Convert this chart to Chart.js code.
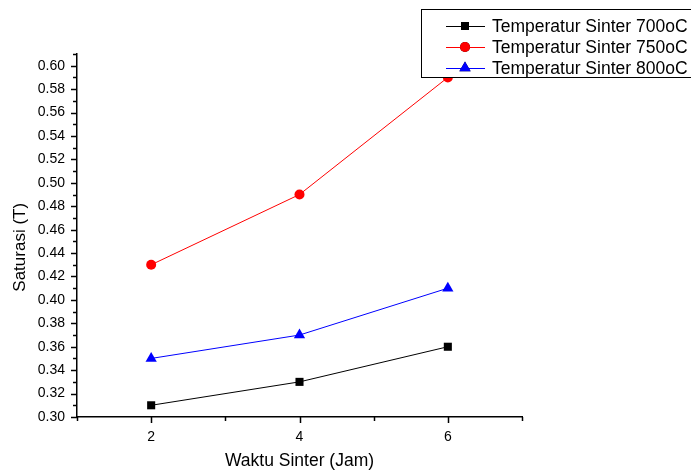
<!DOCTYPE html>
<html>
<head>
<meta charset="utf-8">
<script src="https://cdn.jsdelivr.net/npm/chart.js@4/dist/chart.umd.min.js"></script>
<style>
  html, body { margin: 0; padding: 0; background: #fff; }
  #wrap { width: 691px; height: 470px; }
</style>
</head>
<body>
<div id="wrap"><canvas id="chart" width="691" height="470"></canvas></div>
<script>
// data
const waktu = [2, 4, 6];
const suhu700 = [0.31, 0.33, 0.36];
const suhu750 = [0.43, 0.49, 0.59];
const suhu800 = [0.35, 0.37, 0.41];
const seriesNames = ['Temperatur Sinter 700oC', 'Temperatur Sinter 750oC', 'Temperatur Sinter 800oC'];

const FONT = 'Arial, "Liberation Sans", sans-serif';

const toPoints = (ys) => waktu.map((x, i) => ({ x: x, y: ys[i] }));

// draws major/minor tick marks outward, like Origin does
const tickMarks = {
    id: 'tickMarks',
    afterDraw(chart) {
        const ctx = chart.ctx;
        const xs = chart.scales.x, ys = chart.scales.y;
        ctx.save();
        ctx.strokeStyle = '#000';
        ctx.lineWidth = 1.5;
        xs.ticks.forEach(t => {
            const px = Math.round(xs.getPixelForValue(t.value)) + 0.5;
            const len = (t.value % 2 === 0) ? 6 : 4;
            ctx.beginPath();
            ctx.moveTo(px, xs.top);
            ctx.lineTo(px, xs.top + len);
            ctx.stroke();
        });
        ys.ticks.forEach(t => {
            const py = Math.round(ys.getPixelForValue(t.value)) + 0.5;
            const len = (Math.round(t.value * 100) % 2 === 0) ? 6 : 4;
            ctx.beginPath();
            ctx.moveTo(ys.right, py);
            ctx.lineTo(ys.right - len, py);
            ctx.stroke();
        });
        ctx.restore();
    }
};

// boxed legend in the top right corner, drawn over the data
const boxLegend = {
    id: 'boxLegend',
    afterDraw(chart) {
        const ctx = chart.ctx;
        ctx.save();
        ctx.fillStyle = '#fff';
        ctx.fillRect(421, 9, 280, 68);
        ctx.strokeStyle = '#000';
        ctx.lineWidth = 1;
        ctx.strokeRect(421.5, 9.5, 280, 68);
        const rowY = [26, 47, 68];
        chart.data.datasets.forEach((ds, i) => {
            const y = rowY[i];
            ctx.strokeStyle = ds.borderColor;
            ctx.lineWidth = 1;
            ctx.beginPath();
            ctx.moveTo(446, y + 0.5);
            ctx.lineTo(485, y + 0.5);
            ctx.stroke();
            Chart.helpers.drawPoint(ctx, {
                pointStyle: ds.pointStyle,
                radius: ds.pointRadius,
                rotation: 0,
                borderWidth: 0
            }, 465, y);
            ctx.fillStyle = ds.borderColor;
            ctx.fill();
            ctx.fillStyle = '#000';
            ctx.font = '17.5px ' + FONT;
            ctx.textBaseline = 'middle';
            ctx.fillText(ds.label, 492, y + 1);
        });
        ctx.restore();
    }
};

const makeSet = (label, ys, color, style, r) => ({
    label: label,
    data: toPoints(ys),
    borderColor: color,
    backgroundColor: color,
    borderWidth: 1,
    pointStyle: style,
    pointRadius: r,
    pointBorderWidth: 0,
    pointBackgroundColor: color,
    tension: 0
});

new Chart(document.getElementById('chart'), {
    type: 'line',
    data: {
        datasets: [
            makeSet(seriesNames[0], suhu700, '#000000', 'rect', 5.7),
            makeSet(seriesNames[1], suhu750, '#ff0000', 'circle', 5),
            makeSet(seriesNames[2], suhu800, '#0000ff', 'triangle', 6.5)
        ]
    },
    options: {
        responsive: false,
        animation: false,
        layout: { padding: { top: 54, right: 169, left: 0, bottom: 0 } },
        plugins: {
            legend: { display: false },
            tooltip: { enabled: false }
        },
        scales: {
            x: {
                type: 'linear',
                min: 1,
                max: 7,
                afterFit: (s) => { s.height = 53; },
                ticks: {
                    stepSize: 1,
                    autoSkip: false,
                    maxRotation: 0,
                    padding: 4,
                    color: '#000',
                    font: { family: FONT, size: 14 },
                    callback: (v) => (v % 2 === 0 ? String(v) : '')
                },
                grid: { display: false },
                border: { display: true, color: '#000', width: 1.5 },
                title: {
                    display: true,
                    text: 'Waktu Sinter (Jam)',
                    color: '#000',
                    font: { family: FONT, size: 17.5 },
                    padding: { top: 0, bottom: -2 }
                }
            },
            y: {
                min: 0.30,
                max: 0.61,
                afterFit: (s) => { s.width = 77; },
                ticks: {
                    stepSize: 0.01,
                    autoSkip: false,
                    padding: 4,
                    color: '#000',
                    font: { family: FONT, size: 14 },
                    callback: (v) => (Math.round(v * 100) % 2 === 0 ? v.toFixed(2) : '')
                },
                grid: { display: false },
                border: { display: true, color: '#000', width: 1.5 },
                title: {
                    display: true,
                    // trailing spaces nudge the label a little lower, as in the original
                    text: 'Saturasi (T)     ',
                    color: '#000',
                    font: { family: FONT, size: 17 },
                    padding: { top: 10, bottom: 0 }
                }
            }
        }
    },
    plugins: [tickMarks, boxLegend]
});
</script>
</body>
</html>
